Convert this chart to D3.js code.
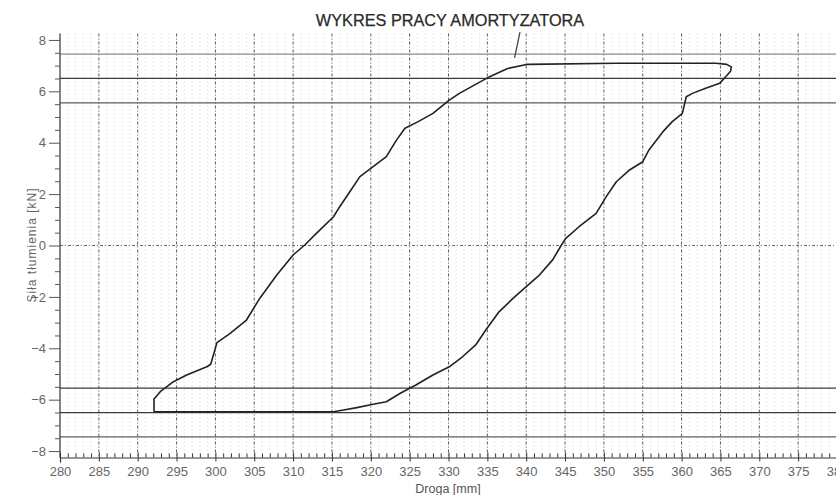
<!DOCTYPE html>
<html><head><meta charset="utf-8">
<script src="https://cdn.jsdelivr.net/npm/d3@7"></script>
<style>body{margin:0;background:#fff}svg{display:block}text{font-family:Arial,"Liberation Sans",sans-serif}</style>
</head><body>
<svg id="c" width="836" height="495"></svg>
<script>
// ---- data ----
const title = "WYKRES PRACY AMORTYZATORA";
const xLabel = "Droga [mm]";
const yLabel = "Siła tłumienia [kN]";
const xTicks = [280,285,290,295,300,305,310,315,320,325,330,335,340,345,350,355,360,365,370,375,380];
const xTickLabels = ["280","285","290","295","300","305","310","315","320","325","330","335","340","345","350","355","360","365","370","375","380"];
const yTicks = [-8,-6,-4,-2,0,2,4,6,8];
const refLevels = [7.45, 6.5, 5.55, -5.55, -6.5, -7.45];
const refShade  = ["#8a8a8a","#3a3a3a","#5a5a5a","#3a3a3a","#3a3a3a","#5e5e5e"];
// digitized loop: droga [mm]
const loopX = [292.1,292.1,292.9,294.6,296.3,298.9,299.4,300.2,301.9,304.0,305.7,307.9,310.0,311.5,313.0,315.2,316.0,317.3,318.6,320.3,322.0,323.3,324.4,326.1,328.0,330.1,331.4,335.3,337.6,340.2,351.6,364.4,365.8,366.4,366.3,365.7,364.9,363.1,361.4,360.6,360.1,358.8,357.6,355.8,355.0,353.3,351.6,350.3,349.0,346.8,345.1,344.5,343.4,341.7,340.0,338.3,336.5,334.8,333.5,331.8,330.1,328.0,325.8,323.8,322.0,320.3,318.2,316.5,315.2,292.1];
// siła [kN]
const loopY = [-6.47,-5.97,-5.69,-5.30,-5.04,-4.72,-4.62,-3.78,-3.42,-2.90,-2.06,-1.15,-0.37,0.02,0.47,1.12,1.51,2.09,2.68,3.07,3.46,4.10,4.56,4.82,5.14,5.66,5.92,6.57,6.89,7.05,7.09,7.09,7.05,6.95,6.78,6.58,6.31,6.12,5.92,5.79,5.14,4.82,4.43,3.72,3.26,2.94,2.48,1.90,1.25,0.73,0.28,0.00,-0.56,-1.15,-1.60,-2.06,-2.58,-3.29,-3.87,-4.33,-4.72,-5.04,-5.43,-5.75,-6.08,-6.18,-6.31,-6.40,-6.47,-6.47];
// small pointer mark near the top
const markX = [339.2, 338.5];
const markY = [8.3, 7.3];

// ---- chart ----
const svg = d3.select("#c");
const W = 836, H = 495;
const x = d3.scaleLinear().domain([280,380]).range([60,837]);
const y = d3.scaleLinear().domain([-8.25,8.25]).range([457.5,33.5]);
const yTop = y(8.25), yBot = y(-8.25);

// minor vertical grid every 1 mm
const minorX = d3.range(281,381).filter(v=>v%5!==0);
svg.append("g").selectAll("line").data(minorX).join("line")
  .attr("x1",d=>x(d)).attr("x2",d=>x(d)).attr("y1",yTop).attr("y2",yBot)
  .attr("stroke","#c8c8c8").attr("stroke-width",0.8).attr("stroke-dasharray","1,3");
// major vertical grid every 5 mm
svg.append("g").selectAll("line").data(xTicks.slice(1)).join("line")
  .attr("x1",d=>x(d)).attr("x2",d=>x(d)).attr("y1",yTop).attr("y2",yBot)
  .attr("stroke","#555").attr("stroke-width",1).attr("stroke-dasharray","3,2,1,2");
// zero line
svg.append("line").attr("x1",x(280)).attr("x2",W).attr("y1",y(0)).attr("y2",y(0))
  .attr("stroke","#666").attr("stroke-width",1).attr("stroke-dasharray","3,2,1,2");

// reference lines
svg.append("g").selectAll("line").data(refLevels).join("line")
  .attr("x1",x(280)).attr("x2",W).attr("y1",d=>y(d)).attr("y2",d=>y(d))
  .attr("stroke",(d,i)=>refShade[i]).attr("stroke-width",1.3);

// axes
const xAxis = d3.axisBottom(x).tickValues(xTicks).tickFormat((d,i)=>xTickLabels[i]).tickSize(5).tickPadding(4);
const gx = svg.append("g").attr("transform",`translate(0,${yBot})`).call(xAxis);
gx.select(".domain").attr("stroke","#333").attr("stroke-width",1.2);
gx.selectAll(".tick line").attr("stroke","#333").attr("y1",-5).attr("y2",4);
gx.selectAll("text").attr("fill","#666").attr("font-size",13);
const xMinor = d3.axisBottom(x).tickValues(minorX).tickFormat("").tickSize(0);
const gxm = svg.append("g").attr("transform",`translate(0,${yBot})`).call(xMinor);
gxm.select(".domain").remove();
gxm.selectAll(".tick line").attr("stroke","#333").attr("y1",-4).attr("y2",0);

const yAxis = d3.axisLeft(y).tickValues(yTicks).tickSize(11).tickPadding(3);
const gy = svg.append("g").attr("transform",`translate(${x(280)},0)`).call(yAxis);
gy.select(".domain").attr("stroke","#333").attr("stroke-width",1.2).attr("d",`M0,${yTop}V${yBot}`);
gy.selectAll(".tick line").attr("stroke","#555");
gy.selectAll("text").attr("fill","#666").attr("font-size",13);
const yMinorVals = d3.range(-8,8.01,0.5).filter(v=>v%2!==0);
const gym = svg.append("g").attr("transform",`translate(${x(280)},0)`)
  .call(d3.axisLeft(y).tickValues(yMinorVals).tickFormat("").tickSize(5));
gym.select(".domain").remove();
gym.selectAll(".tick line").attr("stroke","#555");

// loop curve
const pts = loopX.map((v,i)=>[v,loopY[i]]);
svg.append("path").datum(pts)
  .attr("d",d3.line().x(d=>x(d[0])).y(d=>y(d[1])).curve(d3.curveLinear))
  .attr("fill","none").attr("stroke","#222").attr("stroke-width",1.6).attr("stroke-linejoin","round");

// pointer mark
svg.append("line").attr("x1",x(markX[0])).attr("y1",y(markY[0])).attr("x2",x(markX[1])).attr("y2",y(markY[1]))
  .attr("stroke","#444").attr("stroke-width",1.3);

// titles
svg.append("text").attr("x",450).attr("y",26).attr("text-anchor","middle")
  .attr("font-size",16.3).attr("fill","#2a2a2a").attr("stroke","#2a2a2a").attr("stroke-width",0.25).text(title);
svg.append("text").attr("x",448).attr("y",493).attr("text-anchor","middle")
  .attr("font-size",12.5).attr("fill","#555").text(xLabel);
svg.append("text").attr("transform","translate(36,245) rotate(-90)").attr("text-anchor","middle")
  .attr("font-size",12).attr("fill","#666").attr("letter-spacing",1).text(yLabel);
</script>
</body></html>
